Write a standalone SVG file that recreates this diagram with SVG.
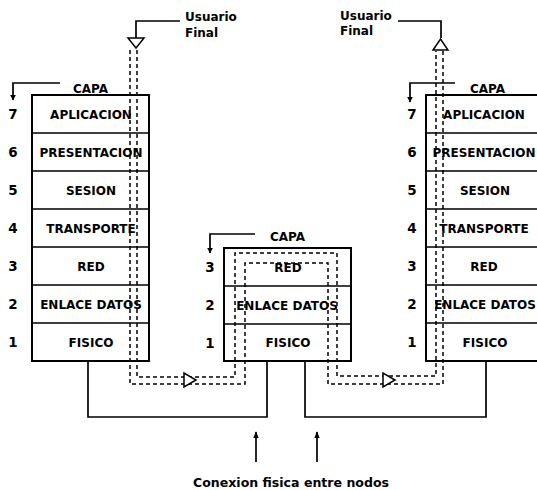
<svg xmlns="http://www.w3.org/2000/svg" width="537" height="490" viewBox="0 0 537 490">
<defs>
<marker id="ah" viewBox="0 0 10 10" refX="9" refY="5" markerWidth="6" markerHeight="6" orient="auto" markerUnits="userSpaceOnUse">
<path d="M0,0 L10,5 L0,10 Z" fill="#000"/>
</marker>
<marker id="ah2" viewBox="0 0 10 10" refX="9" refY="5" markerWidth="7" markerHeight="7" orient="auto" markerUnits="userSpaceOnUse">
<path d="M0,1 L10,5 L0,9 Z" fill="#000"/>
</marker>
</defs>
<style>
text{font-family:"DejaVu Sans","Liberation Sans",sans-serif;font-weight:bold;font-size:12px;fill:#000}
.lbl{text-anchor:middle}
.num{text-anchor:middle;font-size:13.5px}
.box{fill:#fff;stroke:#000;stroke-width:2}
.row{stroke:#000;stroke-width:1.5;fill:none}
.line{stroke:#000;stroke-width:1.7;fill:none}
.dash{stroke:#000;stroke-width:1.5;fill:none;stroke-dasharray:4 3}
.tri{fill:#fff;stroke:#000;stroke-width:1.5}
</style>
<rect width="537" height="490" fill="#fff"/>

<g id="stack-left">
<rect class="box" x="32" y="95" width="117" height="266"/>
<path class="row" d="M32,133H149M32,171H149M32,209H149M32,247H149M32,285H149M32,323H149"/>
<text class="lbl" x="91" y="118.5">APLICACION</text>
<text class="lbl" x="91" y="156.5">PRESENTACION</text>
<text class="lbl" x="91" y="194.5">SESION</text>
<text class="lbl" x="91" y="232.5">TRANSPORTE</text>
<text class="lbl" x="91" y="270.5">RED</text>
<text class="lbl" x="91" y="308.5">ENLACE DATOS</text>
<text class="lbl" x="91" y="346.5">FISICO</text>
<text class="num" x="13" y="119">7</text>
<text class="num" x="13" y="157">6</text>
<text class="num" x="13" y="195">5</text>
<text class="num" x="13" y="233">4</text>
<text class="num" x="13" y="271">3</text>
<text class="num" x="13" y="309">2</text>
<text class="num" x="13" y="347">1</text>
</g>

<g id="stack-middle">
<rect class="box" x="224" y="248" width="127" height="113"/>
<path class="row" d="M224,286H351M224,324H351"/>
<text class="lbl" x="288" y="271.5">RED</text>
<text class="lbl" x="287" y="309.5">ENLACE DATOS</text>
<text class="lbl" x="288" y="347">FISICO</text>
<text class="num" x="210" y="272">3</text>
<text class="num" x="210" y="310">2</text>
<text class="num" x="210" y="347.5">1</text>
</g>

<g id="stack-right">
<rect class="box" x="426" y="95" width="120" height="266"/>
<path class="row" d="M426,133H546M426,171H546M426,209H546M426,247H546M426,285H546M426,323H546"/>
<text class="lbl" x="484" y="118.5">APLICACION</text>
<text class="lbl" x="484" y="156.5">PRESENTACION</text>
<text class="lbl" x="485" y="194.5">SESION</text>
<text class="lbl" x="484" y="232.5">TRANSPORTE</text>
<text class="lbl" x="484" y="270.5">RED</text>
<text class="lbl" x="485" y="308.5">ENLACE DATOS</text>
<text class="lbl" x="485" y="346.5">FISICO</text>
<text class="num" x="412" y="119">7</text>
<text class="num" x="412" y="157">6</text>
<text class="num" x="412" y="195">5</text>
<text class="num" x="412" y="233">4</text>
<text class="num" x="412" y="271">3</text>
<text class="num" x="412" y="309">2</text>
<text class="num" x="412" y="347">1</text>
</g>

<g id="labels">
<text x="185" y="21">Usuario</text>
<text x="185" y="37">Final</text>
<text x="340" y="20">Usuario</text>
<text x="340" y="35">Final</text>
<text x="73" y="93">CAPA</text>
<text x="270" y="241">CAPA</text>
<text x="470" y="93">CAPA</text>
<text x="291" y="487" textLength="196" lengthAdjust="spacingAndGlyphs" text-anchor="middle" style="font-size:11.5px">Conexion fisica entre nodos</text>
</g>

<g id="connectors">
<path class="dash" d="M137,50V377H235V253H337V376H436V51"/>
<path class="dash" d="M130,50V384H245V263H328V384H443V51"/>
<path class="line" d="M180,21H136V38"/>
<polygon class="tri" points="128,38 144,38 136,48"/>
<path class="line" d="M398,21H441V38"/>
<polygon class="tri" points="433,50 448,50 440.5,39"/>
<polygon class="tri" points="184,373 184,387 196,380"/>
<polygon class="tri" points="383,373 383,387 395,380"/>
<path class="line" d="M60,83H13V100" marker-end="url(#ah)"/>
<path class="line" d="M255,234H210V253" marker-end="url(#ah)"/>
<path class="line" d="M455,83H410V102" marker-end="url(#ah)"/>
<path class="line" d="M88,361V417H267V361"/>
<path class="line" d="M305,361V417H486V361"/>
<path class="line" d="M256,462V432" marker-end="url(#ah2)"/>
<path class="line" d="M317,462V432" marker-end="url(#ah2)"/>
</g>
</svg>
